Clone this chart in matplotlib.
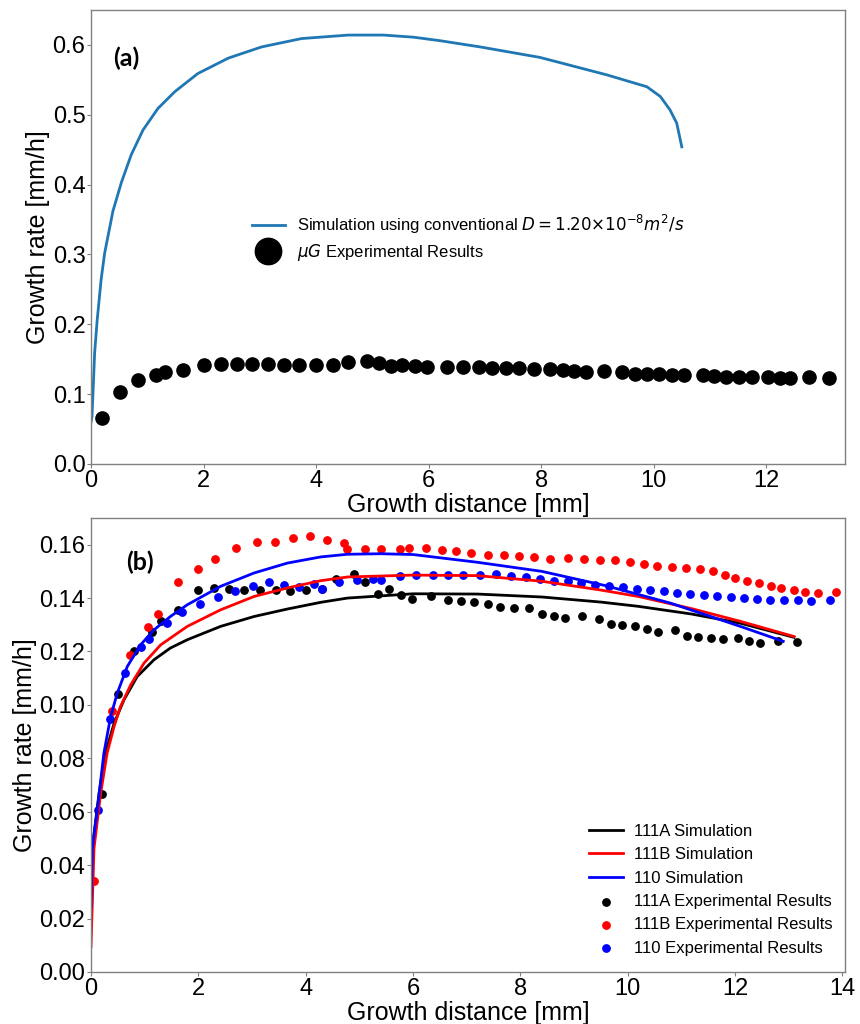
import numpy as np
import matplotlib
matplotlib.use('Agg')
import matplotlib.pyplot as plt

plt.rcParams['font.family'] = ['Liberation Sans', 'DejaVu Sans']
plt.rcParams['mathtext.fontset'] = 'dejavusans'

# ---- panel (a) data ----
sim_a_x = [0, 0.018, 0.065, 0.11, 0.18, 0.243, 0.39, 0.54, 0.717, 0.924, 1.19, 1.49, 1.90,
           2.44, 3.03, 3.74, 4.57, 5.2, 5.73, 6.2, 6.92, 7.98, 9.17, 9.88, 10.12, 10.29,
           10.41, 10.5]
sim_a_y = [0.06, 0.068, 0.159, 0.206, 0.264, 0.302, 0.362, 0.403, 0.443, 0.478, 0.509,
           0.533, 0.559, 0.581, 0.597, 0.609, 0.614, 0.614, 0.611, 0.606, 0.597, 0.582,
           0.557, 0.540, 0.526, 0.507, 0.488, 0.454]

exp_a_x = [0.196, 0.516, 0.84, 1.156, 1.32, 1.63, 2.0, 2.31, 2.59, 2.87, 3.15, 3.43, 3.70,
           4.0, 4.30, 4.56, 4.91, 5.11, 5.33, 5.53, 5.76, 5.98, 6.33, 6.62, 6.89, 7.13,
           7.38, 7.61, 7.88, 8.16, 8.39, 8.59, 8.80, 9.12, 9.43, 9.67, 9.88, 10.10, 10.32,
           10.54, 10.87, 11.08, 11.29, 11.52, 11.75, 12.04, 12.24, 12.43, 12.76, 13.11]
exp_a_y = [0.066, 0.1035, 0.1196, 0.1273, 0.131, 0.135, 0.142, 0.143, 0.143, 0.143, 0.143,
           0.142, 0.142, 0.142, 0.142, 0.1464, 0.147, 0.145, 0.1406, 0.142, 0.1406, 0.1387,
           0.139, 0.1387, 0.1382, 0.138, 0.1378, 0.1368, 0.1363, 0.1363, 0.134, 0.133,
           0.132, 0.1335, 0.132, 0.1292, 0.1292, 0.1292, 0.1278, 0.127, 0.1278, 0.1254,
           0.1245, 0.124, 0.124, 0.1245, 0.123, 0.1225, 0.124, 0.1237]

# ---- panel (b) data ----
sim_111a_x = [0, 0.024, 0.15, 0.27, 0.43, 0.615, 0.86, 1.174, 1.48, 1.795, 2.416, 3.04,
              3.66, 4.28, 4.78, 6.0, 7.2, 8.4, 9.5, 10.2, 11.2, 12.1, 13.1]
sim_111a_y = [0.028, 0.0463, 0.0669, 0.0819, 0.0931, 0.1019, 0.1106, 0.1169, 0.1213,
              0.1244, 0.1294, 0.1331, 0.1359, 0.1384, 0.140, 0.1416, 0.1415, 0.1404,
              0.1385, 0.1369, 0.134, 0.1306, 0.1253]

sim_111b_x = [0, 0.056, 0.18, 0.30, 0.43, 0.55, 0.74, 0.99, 1.30, 1.795, 2.416, 3.04,
              3.66, 4.28, 4.78, 6.0, 7.2, 8.4, 9.5, 10.2, 11.2, 12.1, 13.1]
sim_111b_y = [0.0095, 0.0463, 0.0669, 0.0819, 0.0919, 0.0994, 0.1075, 0.1157, 0.1225,
              0.1294, 0.1356, 0.1406, 0.1438, 0.1465, 0.1479, 0.1486, 0.1484, 0.1463,
              0.143, 0.1406, 0.136, 0.1313, 0.1256]

sim_110_x = [0, 0.024, 0.117, 0.24, 0.366, 0.49, 0.677, 0.925, 1.174, 1.48, 1.795, 2.416,
             3.04, 3.66, 4.28, 4.78, 5.4, 6.0, 7.2, 8.4, 9.6, 10.8, 12.1, 12.9]
sim_110_y = [0.024, 0.0463, 0.0606, 0.0819, 0.0956, 0.1044, 0.1144, 0.1225, 0.1281,
             0.1331, 0.1375, 0.1444, 0.1494, 0.1531, 0.1554, 0.1564, 0.1566, 0.1563,
             0.1534, 0.150, 0.1446, 0.1381, 0.1294, 0.1238]

exp_111a_x = [0.198, 0.50, 0.81, 1.14, 1.30, 1.62, 1.99, 2.30, 2.58, 2.86, 3.15, 3.44, 3.71,
              4.01, 4.30, 4.57, 4.91, 5.11, 5.34, 5.55, 5.77, 5.98, 6.34, 6.65, 6.90, 7.14,
              7.39, 7.63, 7.89, 8.17, 8.40, 8.62, 8.83, 9.15, 9.46, 9.69, 9.90, 10.13, 10.36,
              10.57, 10.89, 11.10, 11.32, 11.56, 11.77, 12.06, 12.27, 12.46, 12.80, 13.15]
exp_111a_y = [0.0665, 0.104, 0.120, 0.1273, 0.1313, 0.1356, 0.1429, 0.1438, 0.1435, 0.1431,
              0.143, 0.1429, 0.1426, 0.1429, 0.1435, 0.1471, 0.1489, 0.1459, 0.1415, 0.1434,
              0.1411, 0.1396, 0.1406, 0.1394, 0.139, 0.1385, 0.1376, 0.1366, 0.1361, 0.1361,
              0.1341, 0.1334, 0.1326, 0.1334, 0.1323, 0.1304, 0.1299, 0.1294, 0.1284, 0.1273,
              0.1281, 0.1259, 0.1254, 0.1249, 0.1248, 0.125, 0.1238, 0.1231, 0.124, 0.1236]

exp_111b_x = [0.06, 0.40, 0.73, 1.07, 1.24, 1.63, 1.99, 2.32, 2.71, 3.09, 3.42, 3.76, 4.08,
              4.40, 4.72, 4.78, 5.11, 5.41, 5.76, 5.93, 6.24, 6.54, 6.80, 7.09, 7.40, 7.69,
              7.98, 8.26, 8.56, 8.88, 9.19, 9.48, 9.77, 10.04, 10.31, 10.55, 10.82, 11.08,
              11.34, 11.59, 11.82, 12.01, 12.22, 12.44, 12.67, 12.86, 13.10, 13.30, 13.54, 13.89]
exp_111b_y = [0.034, 0.0979, 0.1188, 0.1291, 0.1341, 0.1459, 0.1509, 0.1546, 0.1586, 0.1609,
              0.1609, 0.1625, 0.1631, 0.1619, 0.1606, 0.1585, 0.1585, 0.1584, 0.1585, 0.1588,
              0.1588, 0.1581, 0.1575, 0.1569, 0.156, 0.1563, 0.1558, 0.1554, 0.1548, 0.155,
              0.1546, 0.1544, 0.1541, 0.1536, 0.1526, 0.1519, 0.1516, 0.1511, 0.1508, 0.150,
              0.1488, 0.1476, 0.1464, 0.1455, 0.1446, 0.1439, 0.1431, 0.1424, 0.1419, 0.1423]

exp_110_x = [0.137, 0.36, 0.63, 0.94, 1.09, 1.41, 1.70, 2.03, 2.36, 2.68, 3.01, 3.32, 3.60,
             3.88, 4.16, 4.30, 4.63, 4.95, 5.25, 5.41, 5.76, 6.06, 6.37, 6.66, 6.94, 7.24,
             7.54, 7.82, 8.11, 8.36, 8.62, 8.88, 9.14, 9.40, 9.65, 9.91, 10.17, 10.41, 10.67,
             10.92, 11.16, 11.42, 11.67, 11.92, 12.16, 12.42, 12.66, 12.91, 13.17, 13.41, 13.77]
exp_110_y = [0.0607, 0.0948, 0.1121, 0.1215, 0.1248, 0.1306, 0.1346, 0.1378, 0.1404, 0.1428,
             0.1444, 0.1459, 0.145, 0.1441, 0.1451, 0.1434, 0.1459, 0.1466, 0.1471, 0.1466,
             0.1481, 0.1485, 0.1485, 0.1485, 0.1485, 0.1488, 0.1489, 0.1481, 0.1479, 0.1473,
             0.1465, 0.1463, 0.1456, 0.1449, 0.1446, 0.144, 0.1435, 0.1429, 0.1425, 0.1418,
             0.1416, 0.1413, 0.1409, 0.1404, 0.1399, 0.1396, 0.1394, 0.1391, 0.1391, 0.1388,
             0.1391]

fig = plt.figure(figsize=(8.6, 10.24), dpi=100)
ax_a = fig.add_axes([0.1058, 0.5469, 0.8767, 0.4434])
ax_b = fig.add_axes([0.1058, 0.0508, 0.8767, 0.4434])


def style_axis(ax):
    for sp in ax.spines.values():
        sp.set_color('#808080')
        sp.set_linewidth(1.0)
    ax.tick_params(labelsize=17, length=3, width=0.8, color='#808080', pad=1, direction='out')
    ax.set_xlabel('Growth distance [mm]', fontsize=18, labelpad=1)
    ax.set_ylabel('Growth rate [mm/h]', fontsize=18, labelpad=2)


# panel (a)
ax_a.plot(sim_a_x, sim_a_y, color='#1f77b4', lw=2.0,
          label=r'Simulation using conventional $D=1.20{\times}10^{-8}m^2/s$')
ax_a.plot(exp_a_x, exp_a_y, 'o', color='black', ms=9.5, ls='none',
          label=r'$\mu G$ Experimental Results')
ax_a.set_xlim(0, 13.4)
ax_a.set_ylim(0, 0.65)
ax_a.set_xticks(np.arange(0, 13, 2))
ax_a.set_yticks(np.arange(0, 0.61, 0.1))
style_axis(ax_a)
ax_a.text(0.03, 0.894, '(a)', transform=ax_a.transAxes, fontsize=18,
          fontweight='bold', family='Lato', va='center')
ax_a.legend(loc='center left', bbox_to_anchor=(0.202, 0.498), frameon=False,
            fontsize=12, markerscale=2, borderpad=0, handlelength=2,
            handletextpad=0.7, labelspacing=0.4)

# panel (b)
ax_b.plot(sim_111a_x, sim_111a_y, color='black', lw=2.0, label='111A Simulation')
ax_b.plot(sim_111b_x, sim_111b_y, color='red', lw=2.0, label='111B Simulation')
ax_b.plot(sim_110_x, sim_110_y, color='blue', lw=2.0, label='110 Simulation')
ax_b.scatter(exp_111a_x, exp_111a_y, s=28, color='black', label='111A Experimental Results')
ax_b.scatter(exp_111b_x, exp_111b_y, s=28, color='red', label='111B Experimental Results')
ax_b.scatter(exp_110_x, exp_110_y, s=28, color='blue', label='110 Experimental Results')
ax_b.set_xlim(0, 14.05)
ax_b.set_ylim(0, 0.17)
ax_b.set_xticks(np.arange(0, 15, 2))
ax_b.set_yticks(np.arange(0, 0.161, 0.02))
style_axis(ax_b)
ax_b.text(0.047, 0.903, '(b)', transform=ax_b.transAxes, fontsize=18,
          fontweight='bold', family='Lato', va='center')
ax_b.legend(loc='center left', bbox_to_anchor=(0.650, 0.181), frameon=False,
            fontsize=12, borderpad=0, handlelength=2, handletextpad=0.7,
            labelspacing=0.5)

fig.savefig('out.png', dpi=100)
